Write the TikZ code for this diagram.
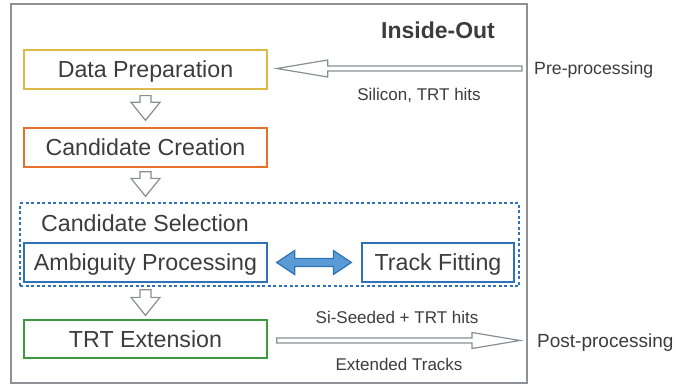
\documentclass[tikz,border=0pt]{standalone}
\usepackage{fontspec}
\setmainfont{Liberation Sans}
\usetikzlibrary{calc}
\definecolor{txt}{HTML}{3C3C3C}
\definecolor{frm}{HTML}{8E9095}
\definecolor{arr}{HTML}{8A8D93}
\definecolor{yel}{HTML}{E0B84A}
\definecolor{ora}{HTML}{E8702A}
\definecolor{blu}{HTML}{2E72B8}
\definecolor{blufill}{HTML}{5B9BD5}
\definecolor{grn}{HTML}{3E9A3E}
\tikzset{
  box/.style={draw, line width=1.3pt, minimum width=243pt, minimum height=39pt, inner sep=0pt, text=txt, font=\fontsize{23.2}{27}\selectfont, text height=16.6pt, text depth=0pt},
  selbox/.style={draw=blu, line width=1.3pt, dash pattern=on 3pt off 2.5pt, minimum width=499pt, minimum height=83pt, inner sep=0pt},
  hollow/.style={draw=arr, fill=white, line width=1.2pt, line join=miter},
  dbl/.style={draw=blu, fill=blufill, line width=1.2pt, line join=miter},
  lbl/.style={text=txt, inner sep=0pt, font=\fontsize{17}{20}\selectfont, text height=12.2pt, text depth=0pt},
  side/.style={text=txt, inner sep=0pt, anchor=west, text depth=0pt}
}
\begin{document}
\begin{tikzpicture}[x=1pt,y=-1pt]
\useasboundingbox (0,0) rectangle (676,385);
\node[draw=frm, line width=1.5pt, minimum width=516pt, minimum height=379pt, inner sep=0pt] (frame) at (269,193.5) {};
\node[text=txt, inner sep=0pt, font=\bfseries\fontsize{23}{27}\selectfont, text height=16.5pt, text depth=0pt] (title) at (438,30) {Inside-Out};
\node[box, draw=yel] (dp) at (145.5,69.5) {Data Preparation};
\node[box, draw=ora] (cc) at (145.5,147.5) {Candidate Creation};
\node[selbox] (sel) at (269.5,244.5) {};
\node[text=txt, inner sep=0pt, font=\fontsize{23.2}{27}\selectfont, text height=16.6pt, text depth=0pt] (seltitle) at (145,223.5) {Candidate Selection};
\node[box, draw=blu] (ap) at (145.5,262.5) {Ambiguity Processing};
\node[box, draw=blu, minimum width=152pt] (tf) at (438,262.5) {Track Fitting};
\node[box, draw=grn, minimum height=38pt] (te) at (145.5,339) {TRT Extension};
\node[side, font=\fontsize{17.7}{21}\selectfont, text height=12.7pt] (pre) at (534,68.5) {Pre-processing};
\node[side, font=\fontsize{19}{23}\selectfont, text height=13.6pt] (post) at (537,340.5) {Post-processing};
\node[lbl] (silab) at (419,94.5) {Silicon, TRT hits};
\node[lbl] (seedlab) at (397,317.5) {Si-Seeded + TRT hits};
\node[lbl] (extlab) at (399,364) {Extended Tracks};
% down arrows
\draw[hollow] let \p1=(dp.south), \p2=(cc.north) in
  (\x1-5.5pt,\y1-6pt) -- (\x1+5.5pt,\y1-6pt) -- (\x1+5.5pt,\y2+25pt) -- (\x1+14.5pt,\y2+25pt)
  -- (\x1,\y2+7pt) -- (\x1-14.5pt,\y2+25pt) -- (\x1-5.5pt,\y2+25pt) -- cycle;
\draw[hollow] let \p1=(cc.south), \p2=(sel.north) in
  (\x1-5.5pt,\y1-4pt) -- (\x1+5.5pt,\y1-4pt) -- (\x1+5.5pt,\y2+24pt) -- (\x1+14.5pt,\y2+24pt)
  -- (\x1,\y2+6pt) -- (\x1-14.5pt,\y2+24pt) -- (\x1-5.5pt,\y2+24pt) -- cycle;
\draw[hollow] let \p1=(sel.south), \p2=(te.north) in
  (\x1-5pt-124.5pt,\y1-3pt) -- (\x1+6pt-124.5pt,\y1-3pt) -- (\x1+6pt-124.5pt,\y2+22pt) -- (\x1+15pt-124.5pt,\y2+22pt)
  -- (\x1+0.5pt-124.5pt,\y2+4pt) -- (\x1-14pt-124.5pt,\y2+22pt) -- (\x1-5pt-124.5pt,\y2+22pt) -- cycle;
% pre-processing arrow (tail near label, tip at data preparation)
\draw[hollow] let \p1=(pre.west), \p2=(dp.east) in
  (\x1-12pt,\y1+2.5pt) -- (\x2+60pt,\y1+2.5pt) -- (\x2+60pt,\y1+8.5pt) -- (\x2+9pt,\y1)
  -- (\x2+60pt,\y1-8.5pt) -- (\x2+60pt,\y1-2.5pt) -- (\x1-12pt,\y1-2.5pt) -- cycle;
% post-processing arrow
\draw[hollow] let \p1=(te.east), \p2=(post.west) in
  (\x1+9pt,\y2+2.5pt) -- (\x2-65pt,\y2+2.5pt) -- (\x2-65pt,\y2+8pt) -- (\x2-17pt,\y2)
  -- (\x2-65pt,\y2-8pt) -- (\x2-65pt,\y2-2.5pt) -- (\x1+9pt,\y2-2.5pt) -- cycle;
% double arrow
\draw[dbl] let \p1=(ap.east), \p2=(tf.west) in
  (\x1+9pt,\y1) -- (\x1+27pt,\y1+12pt) -- (\x1+27pt,\y1+4pt) -- (\x2-28pt,\y1+4pt) -- (\x2-28pt,\y1+12pt)
  -- (\x2-10pt,\y1) -- (\x2-28pt,\y1-12pt) -- (\x2-28pt,\y1-4pt) -- (\x1+27pt,\y1-4pt) -- (\x1+27pt,\y1-12pt) -- cycle;
\end{tikzpicture}
\end{document}
